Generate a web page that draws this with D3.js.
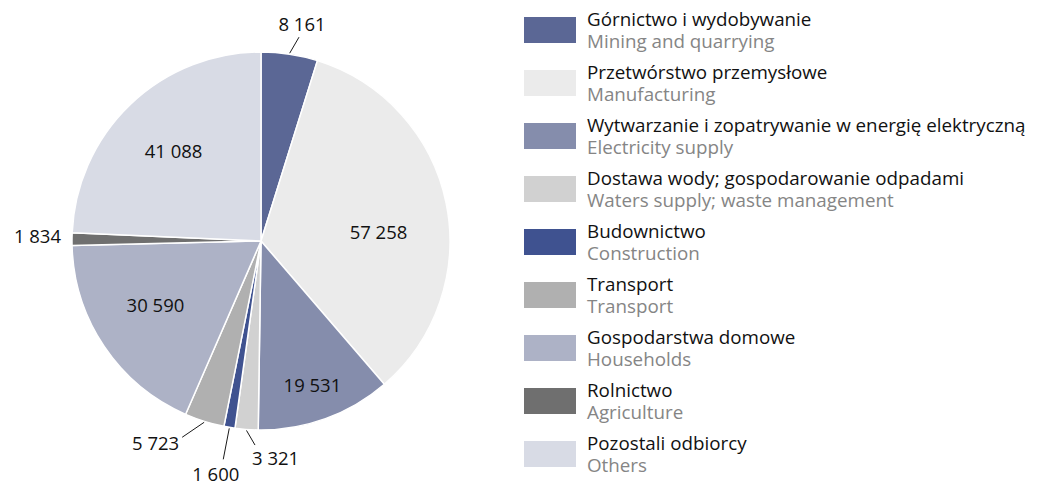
<!DOCTYPE html>
<html>
<head>
<meta charset="utf-8">
<script src="https://cdn.jsdelivr.net/npm/d3@7/dist/d3.min.js"></script>
<style>
  html, body { margin: 0; padding: 0; background: #ffffff; }
  svg { display: block; }
  text { font-family: "Open Sans", "Noto Sans", sans-serif; }
</style>
</head>
<body>
<svg id="chart" width="1045" height="485"></svg>
<script>
// ---- data ----
const categoriesPL = [
  "Górnictwo i wydobywanie",
  "Przetwórstwo przemysłowe",
  "Wytwarzanie i zopatrywanie w energię elektryczną",
  "Dostawa wody; gospodarowanie odpadami",
  "Budownictwo",
  "Transport",
  "Gospodarstwa domowe",
  "Rolnictwo",
  "Pozostali odbiorcy"
];
const categoriesEN = [
  "Mining and quarrying",
  "Manufacturing",
  "Electricity supply",
  "Waters supply; waste management",
  "Construction",
  "Transport",
  "Households",
  "Agriculture",
  "Others"
];
const values = [8161, 57258, 19531, 3321, 1600, 5723, 30590, 1834, 41088];
const valueLabels = ["8 161", "57 258", "19 531", "3 321", "1 600", "5 723", "30 590", "1 834", "41 088"];
const colors = ["#5b6795", "#ebebeb", "#858dac", "#d1d1d1", "#3f5290", "#b0b0b0", "#adb2c6", "#6f6f6f", "#d8dbe5"];

// ---- layout ----
const svg = d3.select("#chart");
const cx = 261, cy = 241, R = 189;

const pie = d3.pie().sort(null).value(d => d).startAngle(0).endAngle(2 * Math.PI);
const arcs = pie(values);
const arc = d3.arc().innerRadius(0).outerRadius(R);
const labelArc = d3.arc().innerRadius(120).outerRadius(120);
const edgeArc = d3.arc().innerRadius(190).outerRadius(190);

const g = svg.append("g").attr("transform", `translate(${cx},${cy})`);

g.selectAll("path.slice")
  .data(arcs)
  .enter().append("path")
  .attr("class", "slice")
  .attr("d", arc)
  .attr("fill", (d, i) => colors[i])
  .attr("stroke", "#ffffff")
  .attr("stroke-width", 1.5)
  .attr("stroke-linejoin", "round");

// inside labels: nudge from centroid
const inside = { 1: [0, 16], 2: [10.5, 31.5], 6: [-6, -2.5], 8: [-4.5, -2.5] };
// outside labels: line delta from edge point, text offset from line end, anchor
const outside = {
  0: { line: [9.3, -16], text: [3, -6], anchor: "middle" },
  3: { line: [8.5, 14.6], text: [-3, 20], anchor: "start" },
  4: { line: [-6, 31], text: [-7.5, 22], anchor: "middle" },
  5: { line: [-22, 15], text: [-3, 13], anchor: "end" },
  7: { line: null, text: [-10, 4], anchor: "end" }
};

arcs.forEach((d, i) => {
  if (inside[i]) {
    const c = labelArc.centroid(d);
    g.append("text")
      .attr("x", c[0] + inside[i][0])
      .attr("y", c[1] + inside[i][1])
      .attr("dy", "0.36em")
      .attr("text-anchor", "middle")
      .attr("font-size", 18.5)
      .attr("fill", "#111111")
      .text(valueLabels[i]);
  } else if (outside[i]) {
    const o = outside[i];
    const s = edgeArc.centroid(d);
    let e = s;
    if (o.line) {
      e = [s[0] + o.line[0], s[1] + o.line[1]];
      g.append("line")
        .attr("x1", s[0]).attr("y1", s[1])
        .attr("x2", e[0]).attr("y2", e[1])
        .attr("stroke", "#1a1a1a")
        .attr("stroke-width", 1);
    }
    g.append("text")
      .attr("x", e[0] + o.text[0])
      .attr("y", e[1] + o.text[1])
      .attr("text-anchor", o.anchor)
      .attr("font-size", 18.5)
      .attr("fill", "#111111")
      .text(valueLabels[i]);
  }
});

// ---- legend ----
const legendY = d3.scaleBand().domain(d3.range(categoriesPL.length)).range([17, 17 + 53 * 9]).paddingInner(0);
const lg = svg.append("g");
categoriesPL.forEach((name, i) => {
  const y = legendY(i);
  lg.append("rect")
    .attr("x", 524).attr("y", y)
    .attr("width", 52).attr("height", 26)
    .attr("fill", colors[i]);
  lg.append("text")
    .attr("x", 587).attr("y", y + 8.5)
    .attr("font-size", 18.8)
    .attr("fill", "#111111")
    .text(name);
  lg.append("text")
    .attr("x", 587).attr("y", y + 30.5)
    .attr("font-size", 18.8)
    .attr("fill", "#858585")
    .text(categoriesEN[i]);
});
</script>
</body>
</html>
